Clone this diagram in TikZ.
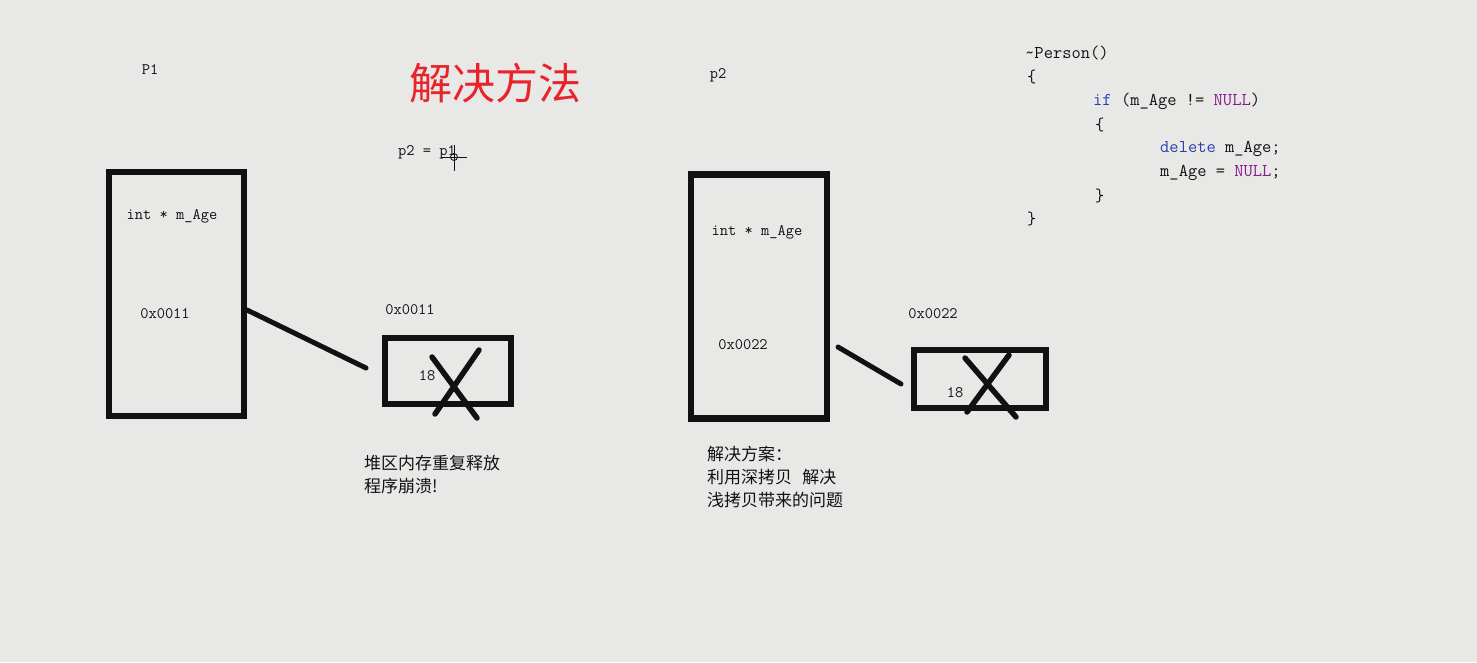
\documentclass[tikz,border=0pt]{standalone}
\usepackage{fontspec}
\newfontfamily\cjk{Noto Sans CJK SC}
\definecolor{bg}{HTML}{E8E9E7}
\definecolor{ink}{HTML}{111111}
\definecolor{titlered}{HTML}{E8232A}
\definecolor{kwblue}{HTML}{2B3FB0}
\definecolor{kwpurple}{HTML}{8A1A8A}
\tikzset{
  memcell/.style={draw=ink, line width=6.5pt, rectangle, minimum width=135pt, minimum height=244pt, inner sep=0pt},
  heapcell/.style={draw=ink, line width=6pt, rectangle, inner sep=0pt},
  ptrline/.style={draw=ink, line width=5pt, line cap=round},
  crossline/.style={draw=ink, line width=5.5pt, line cap=round},
  lbl/.style={font=\ttfamily\fontsize{16}{18}\selectfont, text=ink, inner sep=0pt},
  code/.style={font=\ttfamily\fontsize{18}{20}\selectfont, text=ink, inner sep=0pt, anchor=west},
  captext/.style={font=\cjk\fontsize{17}{23}\selectfont, text=ink, inner sep=0pt, anchor=north west, align=left},
}
\begin{document}
\begin{tikzpicture}[x=1pt,y=-1pt]
\useasboundingbox[fill=bg] (0,0) rectangle (1477,662);

% titles
\node[lbl] (p1lbl) at (150,70) {P1};
\node[lbl] (p2lbl) at (718,75) {p2};
\node[font=\cjk\fontsize{43}{46}\selectfont, text=titlered, inner sep=0pt] (title) at (495,83) {解决方法};
\node[lbl] (assign) at (427,152) {p2 = p1};
% mouse cursor
\draw[ink, line width=0.8pt] (441,157) -- (467,157) (454,145) -- (454,171);
\draw[ink, line width=0.8pt] (454,157) circle (3.5);

% left side
\node[memcell] (b1) at (176.5,294) {};
\node[lbl] (b1a) at (172,216) {int * m\_Age};
\node[lbl] (b1b) at (165,314) {0x0011};
\node[heapcell, minimum width=126pt, minimum height=66pt] (h1) at (447.5,371) {};
\node[lbl] (h1addr) at (410,310) {0x0011};
\node[lbl] (h1v) at (427,376) {18};
\coordinate (l1s) at (247,310);
\coordinate (l1e) at (366,368);
\draw[ptrline] (l1s) -- (l1e);
\coordinate (x1a) at (432,357);
\coordinate (x1b) at (477,418);
\coordinate (x1c) at (479,350);
\coordinate (x1d) at (435,414);
\draw[crossline] (x1a) -- (x1b);
\draw[crossline] (x1c) -- (x1d);
\node[captext] (cap1) at (364,455) {堆区内存重复释放\\程序崩溃!};

% right side
\node[memcell, minimum width=136pt] (b2) at (759,296.5) {};
\node[lbl] (b2a) at (757,232) {int * m\_Age};
\node[lbl] (b2b) at (743,345) {0x0022};
\node[heapcell, minimum width=132pt, minimum height=58pt] (h2) at (980,379) {};
\node[lbl] (h2addr) at (933,314) {0x0022};
\node[lbl] (h2v) at (955,393) {18};
\coordinate (l2s) at (838,347);
\coordinate (l2e) at (901,384);
\draw[ptrline] (l2s) -- (l2e);
\coordinate (x2a) at (965,358);
\coordinate (x2b) at (1016,417);
\coordinate (x2c) at (1009,355);
\coordinate (x2d) at (967,412);
\draw[crossline] (x2a) -- (x2b);
\draw[crossline] (x2c) -- (x2d);
\node[captext] (cap2) at (707,446) {解决方案：\\利用深拷贝\hspace{0.6em}解决\\浅拷贝带来的问题};

% code
\node[code] (c1) at (1025,53) {\textasciitilde Person()};
\node[code] (c2) at (1027,77) {\{};
\node[code] (c3) at (1093,101) {\textcolor{kwblue}{if} (m\_Age != \textcolor{kwpurple}{NULL})};
\node[code] (c4) at (1095,125) {\{};
\node[code] (c5) at (1160,149) {\textcolor{kwblue}{delete} m\_Age;};
\node[code] (c6) at (1160,173) {m\_Age = \textcolor{kwpurple}{NULL};};
\node[code] (c7) at (1095,196) {\}};
\node[code] (c8) at (1027,219) {\}};
\end{tikzpicture}
\end{document}
